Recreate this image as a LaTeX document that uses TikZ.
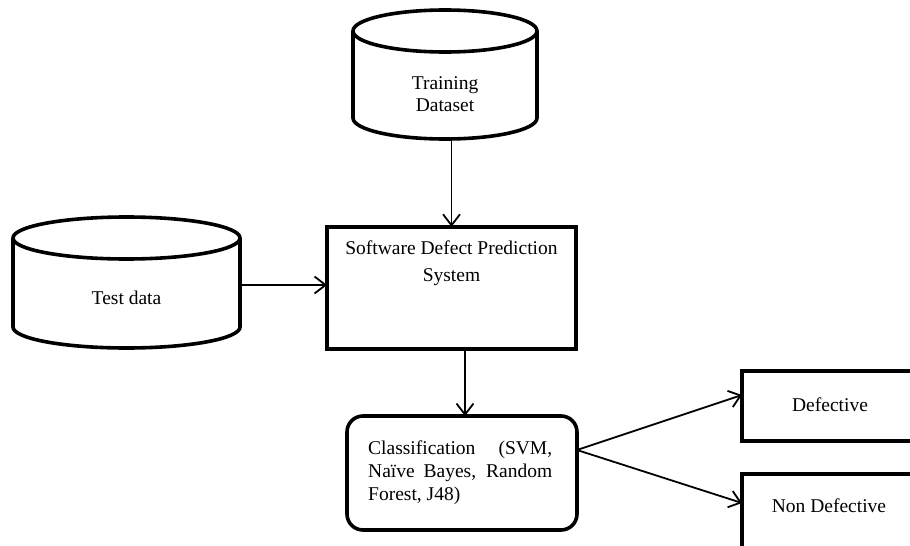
\documentclass[tikz,border=0pt]{standalone}
\usepackage{fontspec}
\setmainfont{Liberation Serif}
\usetikzlibrary{arrows.meta}
\begin{document}
\begin{tikzpicture}[x=1pt,y=-1pt,
  thickline/.style={line width=3.6pt},
  conn/.style={line width=1.8pt,-{Straight Barb[length=11pt,width=17pt,line width=1.8pt]}},
  lbl/.style={font=\fontsize{19.5}{22.5}\selectfont, align=center, inner sep=0pt},
  ghost/.style={inner sep=0pt, outer sep=0pt},
  boxst/.style={draw, thickline, inner sep=0pt, outer sep=0pt},
  ]
\useasboundingbox (0,0) rectangle (910,546);
\clip (0,0) rectangle (910,546);

% Training dataset cylinder
\draw[thickline] (353,31) -- (353,118) arc[start angle=180,end angle=0,x radius=92,y radius=21] -- (537,31);
\draw[thickline] (445,31) ellipse[x radius=92,y radius=21];
\node[ghost, minimum width=184pt, minimum height=129pt] (train) at (445,74.5) {};
\node[lbl] (trainlbl) at (445,94) {Training\\Dataset};

% Test data cylinder
\draw[thickline] (13,238) -- (13,327) arc[start angle=180,end angle=0,x radius=113.5,y radius=21] -- (240,238);
\draw[thickline] (126.5,238) ellipse[x radius=113.5,y radius=21];
\node[ghost, minimum width=227pt, minimum height=131pt] (test) at (126.5,284.5) {};
\node[lbl] (testlbl) at (126.5,298) {Test data};

% Software defect prediction system
\node[boxst, minimum width=249pt, minimum height=122.5pt] (sdp) at (451.5,288) {};
\node[lbl, font=\fontsize{19.5}{27}\selectfont] (sdplbl) at (451.5,263) {Software Defect Prediction\\System};

% Classification
\node[boxst, rounded corners=16pt, minimum width=230pt, minimum height=114pt] (cls) at (462,473) {};
\node[lbl, anchor=west, align=left, font=\fontsize{19.5}{23}\selectfont] (clslbl) at (368,473)
  {\makebox[184pt][s]{Classification\hfill(SVM,}\\\makebox[184pt][s]{Naïve Bayes, Random}\\Forest, J48)};

% Outputs
\node[boxst, anchor=north west, minimum width=200pt, minimum height=70pt] (def) at (742,371) {};
\node[lbl] (deflbl) at (830,404.5) {Defective};
\node[boxst, anchor=north west, minimum width=200pt, minimum height=100pt] (ndef) at (742,474) {};
\node[lbl] (ndeflbl) at (829,505.5) {Non Defective};

% Connectors
\draw[conn] (sdp.north |- train.south) -- (sdp.north);
\draw[conn] ([yshift=-0.5pt]test.east) -- ([yshift=-0.5pt]test.east -| sdp.west);
\draw[conn] ([xshift=3pt]cls.north |- sdp.south) -- ([xshift=3pt]cls.north);
\coordinate (fork) at ([yshift=23pt]cls.east);
\draw[conn] (fork) -- ([yshift=11pt]def.west);
\draw[conn] (fork) -- ([yshift=21pt]ndef.west);
\end{tikzpicture}
\end{document}
